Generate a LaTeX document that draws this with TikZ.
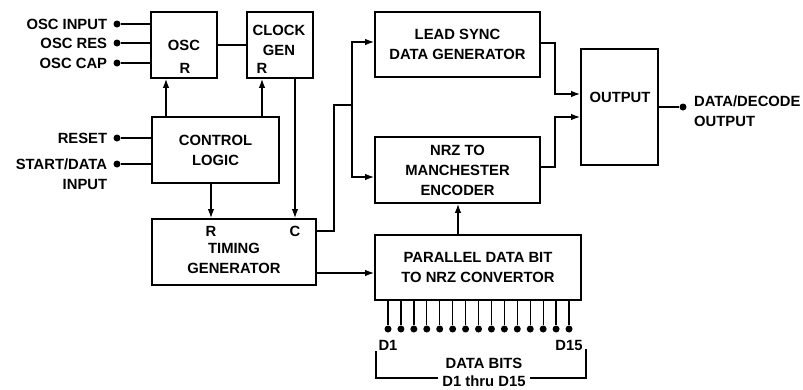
\documentclass[tikz,border=0pt]{standalone}
\usepackage{fontspec}
\setmainfont{Liberation Sans}
\usetikzlibrary{positioning}
\usetikzlibrary{arrows.meta}
\newcommand{\inpin}[4]{\node[pindot] (#1) at (#2,#3) {}; \node[lbl, left=6pt of #1] (#1txt) {#4};}

\tikzset{
    blk/.style={draw, line width=1.8pt, inner sep=0pt, align=center},
    wire/.style={line width=1.3pt},
    arr/.style={wire, ->},
    pindot/.style={circle, fill, inner sep=0pt, minimum size=7pt},
    lbl/.style={inner sep=0pt, align=center}
}

\begin{document}
\begin{tikzpicture}[x=1pt, y=-1pt, >={Latex[length=9pt,width=6.5pt]}, font=\fontsize{14.8}{20}\selectfont\bfseries]
    \useasboundingbox (0,0) rectangle (803,389);
    %blocks
    \node[blk, minimum width=66pt, minimum height=66pt] (osc) at (184,45) {OSC};
    \node[blk, minimum width=66pt, minimum height=66pt] (clk) at (280,45) {};
    \node[blk, minimum width=127pt, minimum height=66pt] (ctrl) at (215.5,150) {CONTROL\\LOGIC};
    \node[blk, minimum width=164pt, minimum height=66pt] (tim) at (234,252) {};
    \node[blk, minimum width=165pt, minimum height=65pt] (lead) at (457.5,44.5) {LEAD SYNC\\DATA GENERATOR};
    \node[blk, minimum width=165pt, minimum height=66pt] (nrz) at (457.5,170) {NRZ TO\\MANCHESTER\\ENCODER};
    \node[blk, minimum width=77pt, minimum height=116pt] (out) at (619.5,107) {};
    \node[blk, minimum width=206pt, minimum height=65pt] (par) at (478,267.5) {PARALLEL DATA BIT\\TO NRZ CONVERTOR};
    %texts inside
    \node[lbl] (oscR) at (185,68) {R};
    \node[lbl] (clkT) at (279,40) {CLOCK\\GEN};
    \node[lbl] (clkR) at (262,68) {R};
    \node[lbl] (timT) at (234,258) {TIMING\\GENERATOR};
    \node[lbl] (timR) at (211,231) {R};
    \node[lbl] (timC) at (295,231) {C};
    \node[lbl] (outT) at (620,97) {OUTPUT};
    %inputs
    \inpin{oscin}{117}{24}{OSC INPUT}
    \inpin{oscres}{117}{43}{OSC RES}
    \inpin{osccap}{117}{63}{OSC CAP}
    \inpin{rst}{117}{138}{RESET}
    \node[pindot] (start) at (117,164) {};
    \node[lbl, align=right, anchor=north east] (starttxt) at ([xshift=-6pt, yshift=5.5pt]start.west) {START/DATA\\INPUT};
    \foreach \p/\b in {oscin/osc, oscres/osc, osccap/osc, rst/ctrl, start/ctrl}
        \draw[wire] (\p) -- (\p -| \b.west);
    \draw[wire] (osc.east) -- (clk.west);
    %control paths
    \draw[arr] ([xshift=-49.5pt]ctrl.north) -- ([xshift=-49.5pt]ctrl.north |- osc.south);
    \draw[arr] ([xshift=46.5pt]ctrl.north) -- ([xshift=46.5pt]ctrl.north |- clk.south);
    \draw[arr] ([xshift=-4.5pt]ctrl.south) -- ([xshift=-4.5pt]ctrl.south |- tim.north);
    \draw[arr] ([xshift=15pt]clk.south) -- ([xshift=15pt]clk.south |- tim.north);
    %timing to encoders
    \coordinate (jn) at (352,105);
    \draw[wire] ([yshift=21pt]tim.east) -- ++(17,0) |- (jn);
    \draw[arr] (jn) |- ([yshift=2.5pt]lead.west);
    \draw[arr] (jn) |- ([yshift=-7pt]nrz.west);
    \draw[arr] ([yshift=-21pt]tim.east) -- ([yshift=-21pt]tim.east -| par.west);
    \draw[arr] ([xshift=-20pt]par.north) -- ([xshift=-20pt]par.north |- nrz.south);
    \draw[arr] ([yshift=1.5pt]lead.east) -- ++(14,0) |- ([yshift=13pt]out.west);
    \draw[arr] ([yshift=3pt]nrz.east) -- ++(14,0) |- ([yshift=-10pt]out.west);
    %output
    \node[pindot] (dout) at (683,107) {};
    \draw[wire] (out.east) -- (dout);
    \node[lbl, align=left, anchor=west] (douttxt) at (694,111) {DATA/DECODE\\OUTPUT};
    %data bits
    \foreach \i in {1,...,15} {
        \node[pindot] (d\i) at ({388+12.93*(\i-1)},329) {};
        \draw[wire] (d\i |- par.south) -- (d\i);
    }
    \node[lbl, below=7pt of d1] (d1txt) {D1};
    \node[lbl, below=7pt of d15] (d15txt) {D15};
    \node[lbl] (bits) at (484,363) {DATA BITS};
    \node[lbl] (thru) at (484,381) {D1 thru D15};
    \draw[wire] (376,351) |- ([xshift=-4pt, yshift=3pt]thru.west);
    \draw[wire] (586,349) |- ([xshift=4pt, yshift=3pt]thru.east);
\end{tikzpicture}
\end{document}
